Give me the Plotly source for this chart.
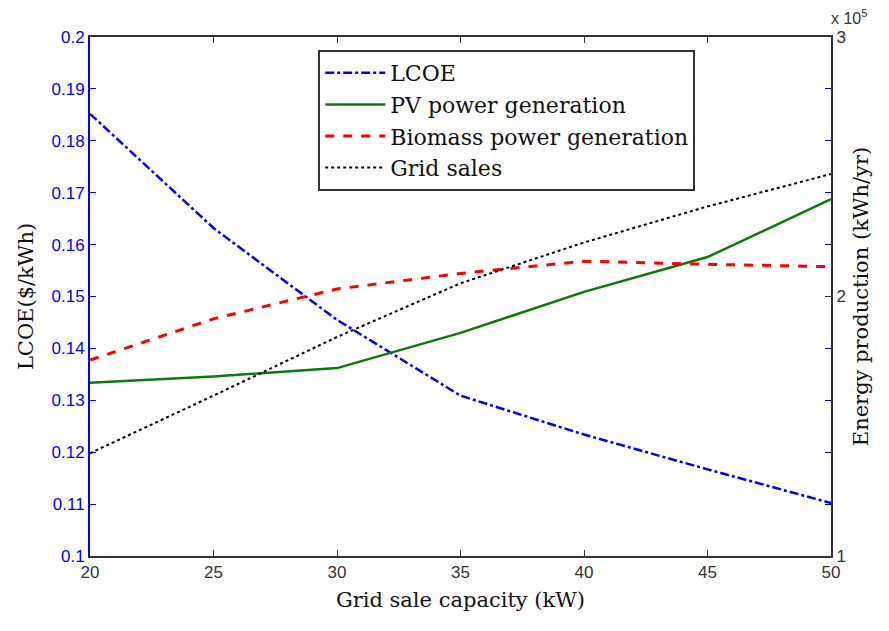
import plotly.graph_objects as go

capacity = [20, 25, 30, 35, 40, 45, 50]
lcoe = [0.1852, 0.1632, 0.1455, 0.1309, 0.1234, 0.1167, 0.1102]
pv_gen = [1.668, 1.692, 1.724, 1.860, 2.018, 2.152, 2.375]
biomass_gen = [1.755, 1.914, 2.029, 2.089, 2.136, 2.124, 2.115]
grid_sales = [1.396, 1.618, 1.844, 2.051, 2.208, 2.347, 2.472]

left_ticks = [0.1, 0.11, 0.12, 0.13, 0.14, 0.15, 0.16, 0.17, 0.18, 0.19, 0.2]
left_labels = ["0.1", "0.11", "0.12", "0.13", "0.14", "0.15", "0.16", "0.17", "0.18", "0.19", "0.2"]

serif = "DejaVu Serif"
sans = "Liberation Sans"

fig = go.Figure()
fig.add_trace(go.Scatter(x=capacity, y=lcoe, name="LCOE", mode="lines",
                         line=dict(color="#0000FF", width=2.5, dash="dashdot"), yaxis="y"))
fig.add_trace(go.Scatter(x=capacity, y=pv_gen, name="PV power generation", mode="lines",
                         line=dict(color="#0A7A0A", width=2.5), yaxis="y2"))
fig.add_trace(go.Scatter(x=capacity, y=biomass_gen, name="Biomass power generation", mode="lines",
                         line=dict(color="#FF0000", width=3, dash="dash"), yaxis="y2"))
fig.add_trace(go.Scatter(x=capacity, y=grid_sales, name="Grid sales", mode="lines",
                         line=dict(color="#000000", width=2, dash="dot"), yaxis="y2"))

fig.update_layout(
    width=889, height=631,
    margin=dict(l=90, r=58, t=37, b=75),
    paper_bgcolor="white", plot_bgcolor="white",
    xaxis=dict(range=[20, 50], dtick=5, tick0=20, ticks="inside", ticklen=6,
               tickcolor="#333333", showline=True, linecolor="#333333", linewidth=2,
               mirror="ticks", showgrid=False, zeroline=False,
               tickfont=dict(family=sans, size=17, color="#333333"),
               title=dict(text="Grid sale capacity (kW)", standoff=11,
                          font=dict(family=serif, size=21, color="#111111"))),
    yaxis=dict(range=[0.1, 0.2], tickvals=left_ticks, ticktext=left_labels,
               ticks="inside", ticklen=6, tickcolor="#0000FF",
               showline=True, linecolor="#0000FF", linewidth=2,
               showgrid=False, zeroline=False,
               tickfont=dict(family=sans, size=17, color="#0000FF"),
               title=dict(text="LCOE($/kWh)", standoff=12,
                          font=dict(family=serif, size=21, color="#111111"))),
    yaxis2=dict(range=[1, 3], overlaying="y", side="right", tickvals=[1, 2, 3],
                ticktext=["1", "2", "3"], ticks="inside", ticklen=6, tickcolor="#333333",
                showline=True, linecolor="#333333", linewidth=2,
                showgrid=False, zeroline=False,
                minor=dict(dtick=0.2, tick0=1, ticks="inside", ticklen=6, tickcolor="#0000FF"),
                tickfont=dict(family=sans, size=17, color="#333333"),
                title=dict(text="Energy production (kWh/yr)", standoff=8,
                           font=dict(family=serif, size=21, color="#111111"))),
    legend=dict(x=0.308, y=0.975, xanchor="left", yanchor="top",
                bgcolor="white", bordercolor="#333333", borderwidth=2,
                font=dict(family=serif, size=22, color="#111111"),
                itemwidth=60, tracegroupgap=0),
    showlegend=True,
)

fig.add_annotation(x=1.0, y=1.0, xref="paper", yref="paper", xanchor="left", yanchor="bottom",
                   xshift=-2, yshift=8, showarrow=False,
                   text="x 10<sup>5</sup>", font=dict(family=sans, size=16, color="#333333"))

fig.write_html("out.html")
